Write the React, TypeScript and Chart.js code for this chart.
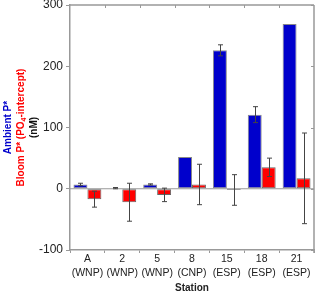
import React, { useEffect, useRef } from "react";
import { Chart, registerables } from "chart.js";

Chart.register(...registerables);

const stations = ["A", "2", "5", "8", "15", "18", "21"];
const regions = ["(WNP)", "(WNP)", "(WNP)", "(CNP)", "(ESP)", "(ESP)", "(ESP)"];
const ambient = [7, 1, 7, 52, 226, 121, 269];
const ambientErr = [2, 1, 1, 0, 9, 13, 0];
const bloom = [-17, -22, -10, 7, -2, 35, 17];
const bloomErr = [13, 31, 11, 33, 25, 15, 74];
const yTicks = [-100, 0, 100, 200, 300];

const FONT = "Arial, 'Liberation Sans', sans-serif";
const AXIS = "#999999";

const framePlugin = {
  id: "frame",
  beforeDatasetsDraw(chart: any) {
    const { ctx, chartArea, scales } = chart;
    const y0 = scales.y.getPixelForValue(0);
    ctx.save();
    ctx.strokeStyle = AXIS;
    ctx.lineWidth = 1;
    ctx.beginPath();
    ctx.moveTo(chartArea.left, y0);
    ctx.lineTo(chartArea.right, y0);
    ctx.stroke();
    ctx.restore();
  },
  afterDraw(chart: any) {
    const { ctx, chartArea, scales } = chart;
    const { left, right, top, bottom } = chartArea;
    const y = scales.y;
    ctx.save();
    ctx.strokeStyle = AXIS;
    ctx.lineWidth = 1.5;
    ctx.beginPath();
    ctx.moveTo(left, top);
    ctx.lineTo(right, top);
    ctx.moveTo(right, top);
    ctx.lineTo(right, bottom + 3);
    ctx.stroke();
    ctx.lineWidth = 1;
    ctx.beginPath();
    const n = stations.length;
    const w = (right - left) / n;
    for (let i = 1; i < n; i++) {
      const px = Math.round(left + w * i) + 0.5;
      ctx.moveTo(px, top);
      ctx.lineTo(px, top + 3);
    }
    yTicks.forEach((v) => {
      const py = Math.round(y.getPixelForValue(v)) + 0.5;
      ctx.moveTo(right, py);
      ctx.lineTo(right - 3, py);
    });
    ctx.stroke();

    ctx.strokeStyle = "#444444";
    ctx.lineWidth = 1;
    const drawErr = (dsIndex: number, vals: number[], errs: number[]) => {
      const meta = chart.getDatasetMeta(dsIndex);
      meta.data.forEach((el: any, i: number) => {
        const e = errs[i];
        if (!e) return;
        const cx = Math.round(el.x) + 0.5;
        const yHi = y.getPixelForValue(vals[i] + e);
        const yLo = y.getPixelForValue(vals[i] - e);
        ctx.beginPath();
        ctx.moveTo(cx, yHi);
        ctx.lineTo(cx, yLo);
        ctx.moveTo(cx - 2.5, yHi);
        ctx.lineTo(cx + 2.5, yHi);
        ctx.moveTo(cx - 2.5, yLo);
        ctx.lineTo(cx + 2.5, yLo);
        ctx.stroke();
      });
    };
    drawErr(0, ambient, ambientErr);
    drawErr(1, bloom, bloomErr);

    ctx.fillStyle = "#222222";
    ctx.font = `bold 10px ${FONT}`;
    ctx.textAlign = "center";
    ctx.textBaseline = "middle";
    ctx.fillText("Station", (left + right) / 2, 288);

    const cy = (top + bottom) / 2;
    const drawRot = (cx: number, parts: { t: string; sub?: boolean }[], color: string) => {
      ctx.save();
      ctx.translate(cx, cy);
      ctx.rotate(-Math.PI / 2);
      ctx.fillStyle = color;
      ctx.textAlign = "left";
      ctx.textBaseline = "middle";
      let total = 0;
      parts.forEach((p) => {
        ctx.font = `bold ${p.sub ? 7 : 10}px ${FONT}`;
        total += ctx.measureText(p.t).width;
      });
      let pos = -total / 2;
      parts.forEach((p) => {
        ctx.font = `bold ${p.sub ? 7 : 10}px ${FONT}`;
        ctx.fillText(p.t, pos, p.sub ? 3 : 0);
        pos += ctx.measureText(p.t).width;
      });
      ctx.restore();
    };
    drawRot(8, [{ t: "Ambient P*" }], "#0000CC");
    drawRot(21, [{ t: "Bloom P* (PO" }, { t: "4", sub: true }, { t: "-intercept)" }], "#FF0000");
    drawRot(34, [{ t: "(nM)" }], "#111111");
    ctx.restore();
  },
};

export default function App() {
  const ref = useRef<HTMLCanvasElement>(null);
  useEffect(() => {
    if (!ref.current) return;
    const chart = new Chart(ref.current, {
      type: "bar",
      data: {
        labels: stations.map((s, i) => [s, regions[i]]),
        datasets: [
          {
            label: "Ambient P*",
            data: ambient,
            backgroundColor: "#0000CC",
            borderColor: "#888888",
            borderWidth: 1,
            borderSkipped: false,
            barPercentage: 1,
            categoryPercentage: 0.8,
          },
          {
            label: "Bloom P*",
            data: bloom,
            backgroundColor: "#FF0000",
            borderColor: "#666666",
            borderWidth: 1,
            borderSkipped: false,
            barPercentage: 1,
            categoryPercentage: 0.8,
          },
        ],
      },
      options: {
        responsive: false,
        animation: false,
        devicePixelRatio: 1,
        layout: { padding: { left: 0, top: 5, right: 6, bottom: 0 } },
        plugins: { legend: { display: false }, tooltip: { enabled: false } },
        scales: {
          x: {
            type: "category",
            offset: true,
            grid: {
              display: true,
              offset: true,
              drawOnChartArea: false,
              drawTicks: true,
              tickLength: 3,
              color: AXIS,
            },
            border: { display: true, color: AXIS, width: 1.5 },
            ticks: {
              font: { family: FONT, size: 10.5, lineHeight: 1.25 },
              color: "#222222",
              padding: 0,
              maxRotation: 0,
              autoSkip: false,
            },
            afterFit: (s: any) => {
              s.height = 45;
              s.paddingLeft = 0;
              s.paddingRight = 0;
            },
          },
          y: {
            min: -100,
            max: 300,
            ticks: {
              stepSize: 100,
              font: { family: FONT, size: 12 },
              color: "#222222",
              padding: 3,
            },
            grid: {
              display: true,
              drawOnChartArea: false,
              drawTicks: true,
              tickLength: 4,
              color: AXIS,
            },
            border: { display: true, color: AXIS, width: 1.5 },
            afterFit: (s: any) => {
              s.width = 70;
              s.paddingTop = 0;
              s.paddingBottom = 0;
            },
          },
        },
      },
      plugins: [framePlugin],
    });
    return () => chart.destroy();
  }, []);
  return (
    <div style={{ position: "absolute", left: 0, top: 0, width: 320, height: 295, background: "#fff" }}>
      <canvas ref={ref} width={320} height={295} style={{ width: 320, height: 295 }} />
    </div>
  );
}
